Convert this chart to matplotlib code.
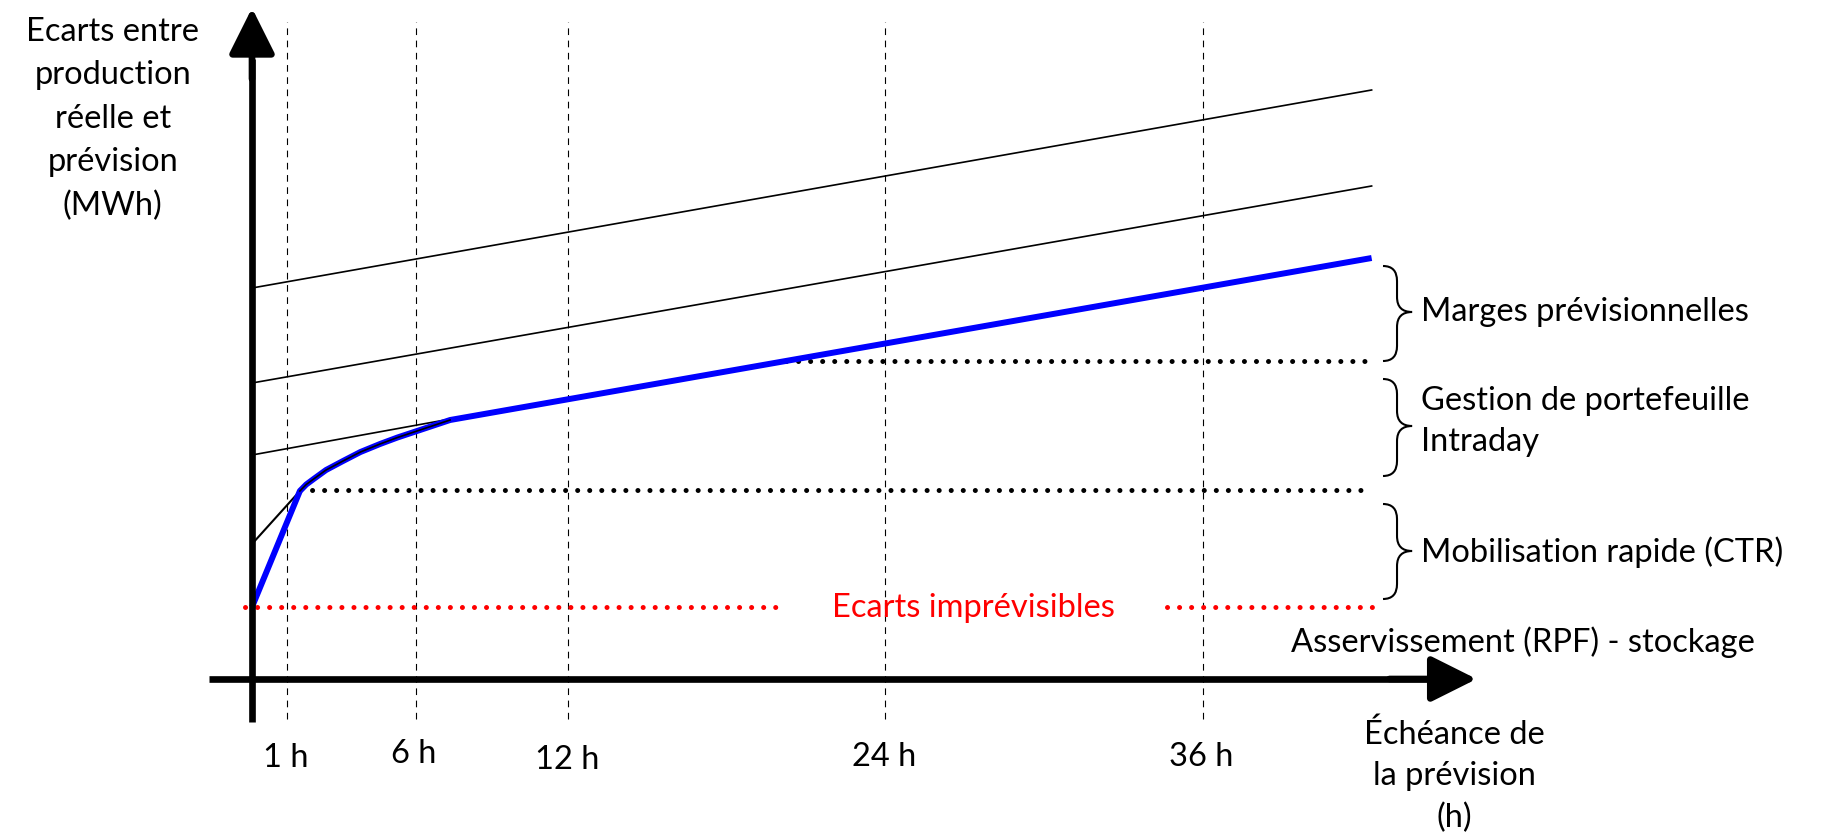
import matplotlib
matplotlib.use("Agg")
import matplotlib.pyplot as plt
import numpy as np
from matplotlib.path import Path
from matplotlib.patches import PathPatch

plt.rcParams['font.family'] = ['Lato', 'DejaVu Sans']

# horizon (h) of the vertical markers and their labels
tick_hours = [1.33, 6.2, 11.95, 23.95, 35.95]
tick_labels = ['1 h', '6 h', '12 h', '24 h', '36 h']
tick_label_x = [1.29, 6.12, 11.9, 23.9, 35.9]
tick_label_y = [-7.8, -7.4, -8.0, -7.7, -7.7]

# schematic error levels (arbitrary MWh units)
upper_x = [0, 42.33]
upper_y = [39.1, 58.9]
middle_x = [0, 42.33]
middle_y = [29.6, 49.3]
lower_x = [0, 7.5]
lower_y = [22.4, 26.0]
curve_x = [0, 1.81, 2.05, 2.33, 2.8, 3.44, 4.1, 4.84, 5.5, 6.24, 7.49]
curve_y = [13.5, 18.8, 19.45, 20.0, 20.9, 21.8, 22.7, 23.5, 24.15, 24.8, 25.9]
blue_x = [0] + curve_x[1:] + [42.33]
blue_y = [7.2] + curve_y[1:] + [42.1]

ctr_level = 18.9
ctr_x = [1.81, 42.33]
intraday_level = 31.8
intraday_x = [20.2, 42.33]
rpf_level = 7.2
rpf_x1 = [-0.25, 19.97]
rpf_x2 = [34.6, 42.33]

# braces: (top, tip, bottom) and their labels
braces = [(41.3, 36.7, 31.8), (30.0, 25.3, 20.3), (17.5, 12.8, 8.0)]
brace_labels = ['Marges prévisionnelles', 'Gestion de portefeuille\nIntraday',
                'Mobilisation rapide (CTR)']
brace_label_y = [36.8, 25.85, 12.8]

fig = plt.figure(figsize=(18.21, 8.37), dpi=100)
ax = fig.add_axes([0, 0, 1, 1])
ax.set_xlim(-252 / 26.45, (1821 - 252) / 26.45)
ax.set_ylim(-15.7, 68.0)
ax.axis('off')

fs = 23.5

# vertical dashed markers
for h in tick_hours:
    ax.plot([h, h], [-4.0, 65.7], color='black', lw=0.8, dashes=(6, 5), zorder=1)
for x, y, s in zip(tick_label_x, tick_label_y, tick_labels):
    ax.text(x, y, s, ha='center', va='center', fontsize=fs)

# axes arrows
ax.plot([0, 0], [-4.3, 62], color='black', lw=4.8, solid_capstyle='butt', zorder=5)
ax.plot([-1.63, 44.5], [0, 0], color='black', lw=4.8, solid_capstyle='butt', zorder=5)
head = dict(arrowstyle='-|>,head_length=1.0,head_width=0.5',
            mutation_scale=28, color='black', lw=4.8, shrinkA=0, shrinkB=0)
ax.annotate('', xy=(0, 67.1), xytext=(0, 60), zorder=6, arrowprops=head)
ax.annotate('', xy=(46.3, 0), xytext=(43, 0), zorder=6, arrowprops=head)

# thin black lines
ax.plot(upper_x, upper_y, color='black', lw=1.2, zorder=2)
ax.plot(middle_x, middle_y, color='black', lw=1.2, zorder=2)
ax.plot(lower_x, lower_y, color='black', lw=1.2, zorder=2)
ax.plot(curve_x, curve_y, color='black', lw=1.5, zorder=2)

# dotted levels
dot = dict(lw=3.6, dashes=(0.01, 2.4), dash_capstyle='round', zorder=2)
ax.plot(ctr_x, [ctr_level] * 2, color='black', **dot)
ax.plot(intraday_x, [intraday_level] * 2, color='black', **dot)
ax.plot(rpf_x1, [rpf_level] * 2, color='red', **dot)
ax.plot(rpf_x2, [rpf_level] * 2, color='red', **dot)
ax.text(27.26, rpf_level, 'Ecarts imprévisibles', color='red', ha='center', va='center', fontsize=fs)

# blue curve on top
ax.plot(blue_x, blue_y, color='#0000FF', lw=4.3, zorder=4, solid_capstyle='butt',
        solid_joinstyle='round')
ax.plot(curve_x[1:], curve_y[1:], color='black', lw=1.2, zorder=4.5)


def brace(x0, xm, xt, top, tip, bot, r=1.5):
    verts = [(x0, top), (xm, top), (xm, top - r),
             (xm, tip + r), (xm, tip), (xt, tip),
             (xm, tip), (xm, tip - r),
             (xm, bot + r), (xm, bot), (x0, bot)]
    codes = [Path.MOVETO, Path.CURVE3, Path.CURVE3,
             Path.LINETO, Path.CURVE3, Path.CURVE3,
             Path.CURVE3, Path.CURVE3,
             Path.LINETO, Path.CURVE3, Path.CURVE3]
    ax.add_patch(PathPatch(Path(verts, codes), fill=False, lw=1.5, color='black'))


for (top, tip, bot), lab, ly in zip(braces, brace_labels, brace_label_y):
    brace(42.76, 43.29, 43.86, top, tip, bot)
    ax.text(44.2, ly, lab, ha='left', va='center', fontsize=fs, linespacing=1.46)

ax.text(39.3, 3.8, 'Asservissement (RPF) - stockage', ha='left', va='center', fontsize=fs)
ax.text(45.45, -9.65, 'Échéance de\nla prévision\n(h)', ha='center', va='center',
        fontsize=fs, linespacing=1.47)
ax.text(-5.26, 56.1, 'Ecarts entre\nproduction\nréelle et\nprévision\n(MWh)', ha='center',
        va='center', fontsize=fs, linespacing=1.55)

fig.savefig('out.png', dpi=100)
